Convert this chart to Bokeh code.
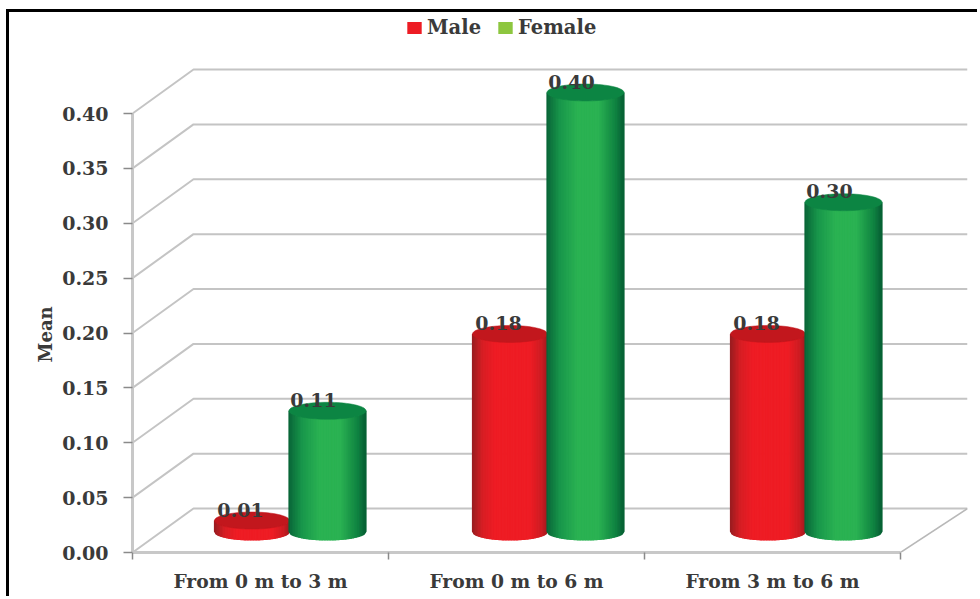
import numpy as np
from bokeh.embed import file_html
from bokeh.resources import INLINE
from bokeh.plotting import figure
from bokeh.models import (FixedTicker, Legend, LegendItem, NumeralTickFormatter, Title)
from bokeh.core.properties import value

categories = ["From 0 m to 3 m", "From 0 m to 6 m", "From 3 m to 6 m"]
male = [0.01, 0.18, 0.18]
female = [0.11, 0.40, 0.30]
y_ticks = [0.00, 0.05, 0.10, 0.15, 0.20, 0.25, 0.30, 0.35, 0.40]
series_names = ["Male", "Female"]

FONT = "DejaVu Serif"
TEXT = "#3a3a3a"
GX = 256.0    # px per category
GY = 1097.5   # px per unit of value
px = lambda d: d / GX
py = lambda d: d / GY

W, H = 971, 587
FW, FH = 835, 540
p = figure(width=W, height=H, output_backend="svg", toolbar_location=None,
           x_range=(0, FW / GX), y_range=(0, FH / GY),
           min_border_left=123, min_border_right=13, min_border_top=0, min_border_bottom=47,
           outline_line_color=None, background_fill_color="white")
p.margin = (9, 0, 0, 6)
p.styles = {"border-left": "3px solid black", "border-top": "3px solid black"}
p.grid.visible = False

# axes
xa = p.xaxis[0]
xa.ticker = FixedTicker(ticks=[i + 0.5 for i in range(len(categories))],
                        minor_ticks=list(range(len(categories) + 1)))
xa.major_label_overrides = {i + 0.5: c for i, c in enumerate(categories)}
xa.bounds = (0, len(categories))
xa.major_tick_line_color = None
xa.minor_tick_in = 0
xa.minor_tick_out = 7
xa.minor_tick_line_color = "#8a8a8a"
xa.minor_tick_line_width = 1.5
xa.axis_line_color = "#c8c8c8"
xa.axis_line_width = 3
xa.major_label_standoff = 10
xa.major_label_text_font = FONT
xa.major_label_text_font_style = "bold"
xa.major_label_text_font_size = "18.7px"
xa.major_label_text_color = TEXT

ya = p.yaxis[0]
ya.ticker = FixedTicker(ticks=y_ticks, minor_ticks=[])
ya.formatter = NumeralTickFormatter(format="0.00")
ya.bounds = (min(y_ticks), max(y_ticks))
ya.major_tick_in = 0
ya.major_tick_out = 9
ya.major_tick_line_color = "#8a8a8a"
ya.major_tick_line_width = 1.5
ya.axis_line_color = "#c8c8c8"
ya.axis_line_width = 3
ya.major_label_standoff = 15
ya.major_label_text_font = FONT
ya.major_label_text_font_style = "bold"
ya.major_label_text_font_size = "19px"
ya.major_label_text_color = TEXT

# axis title, placed along the 0-0.40 span of the axis
p.add_layout(Title(text="Mean", align="left", offset=190, standoff=8,
                   text_font=FONT, text_font_style="bold", text_font_size="18px",
                   text_color=TEXT), "left")

# 3-D walls
dx, dy = px(61), py(44)
x_end = px(FW)
wall_xs = [[0, dx, x_end] for _ in y_ticks]
wall_ys = [[v, v + dy, v + dy] for v in y_ticks]
p.multi_line(wall_xs, wall_ys, line_color="#c4c4c4", line_width=2)
n = len(categories)
p.line([n, x_end], [0, dy], line_color="#b8b8b8", line_width=1.5)


def mix(stops, t):
    ts = [s[0] for s in stops]
    cols = np.array([s[1] for s in stops], dtype=float)
    return "#%02x%02x%02x" % tuple(int(round(np.interp(t, ts, cols[:, k]))) for k in range(3))


RED_STOPS = [(-1, (150, 28, 32)), (-0.72, (215, 30, 36)), (-0.4, (238, 28, 36)),
             (0.55, (238, 28, 36)), (0.85, (205, 28, 34)), (1, (165, 25, 30))]
GREEN_STOPS = [(-1, (8, 100, 55)), (-0.65, (24, 150, 75)), (-0.2, (42, 178, 82)),
               (0.35, (42, 178, 82)), (0.8, (15, 130, 65)), (1, (6, 95, 52))]
BASE = py(21)
RY = py(8.5)


def cylinder(cx, rx, val, stops, top_color):
    t = np.linspace(-1, 1, 49)
    xs, ys, cols = [], [], []
    top = BASE + val
    for a, b in zip(t[:-1], t[1:]):
        fa, fb = np.sqrt(1 - a * a), np.sqrt(1 - b * b)
        xs.append([cx + a * rx, cx + b * rx, cx + b * rx, cx + a * rx])
        ys.append([top - RY * fa, top - RY * fb, BASE - RY * fb, BASE - RY * fa])
        cols.append(mix(stops, (a + b) / 2))
    p.patches(xs, ys, fill_color=cols, line_color=cols, line_width=1.2)
    th = np.linspace(0, 2 * np.pi, 73)
    p.patch(cx + rx * np.cos(th), top + RY * np.sin(th), fill_color=top_color, line_color=top_color, line_width=0.5)


STEP = 258.0 / GX
for i, (m, f) in enumerate(zip(male, female)):
    cylinder(px(119.5) + i * STEP, px(37.5), m, RED_STOPS, "#c2171d")
    cylinder(px(195) + i * STEP, px(38.5), f, GREEN_STOPS, "#0c8543")

# data labels
lab_x, lab_y, lab_t = [], [], []
for i, (m, f) in enumerate(zip(male, female)):
    lab_x += [px(108) + i * STEP, px(181) + i * STEP]
    lab_y += [BASE + m, BASE + f]
    lab_t += ["%.2f" % m, "%.2f" % f]
p.text(lab_x, lab_y, text=lab_t, text_font=value(FONT), text_font_style="bold",
       text_font_size="19px", text_color=TEXT, text_align="center",
       text_baseline="middle", y_offset=-11)

# legend (off-range swatch sources; only the legend shows them)
r_m = p.quad(left=[-9], right=[-8], top=[-8], bottom=[-9], fill_color="#ed1c24", line_color=None)
r_f = p.quad(left=[-9], right=[-8], top=[-8], bottom=[-9], fill_color="#8dc63f", line_color=None)
leg = Legend(items=[LegendItem(label=series_names[0], renderers=[r_m]),
                    LegendItem(label=series_names[1], renderers=[r_f])],
             orientation="horizontal", location=(273, 513), border_line_color=None,
             background_fill_alpha=0, padding=0, margin=0, spacing=15,
             glyph_width=18, glyph_height=15, label_standoff=4,
             label_text_font=FONT, label_text_font_style="bold", label_text_font_size="19.5px",
             label_text_color=TEXT)
p.add_layout(leg, "center")

open("out.html", "w").write(file_html(p, INLINE))
